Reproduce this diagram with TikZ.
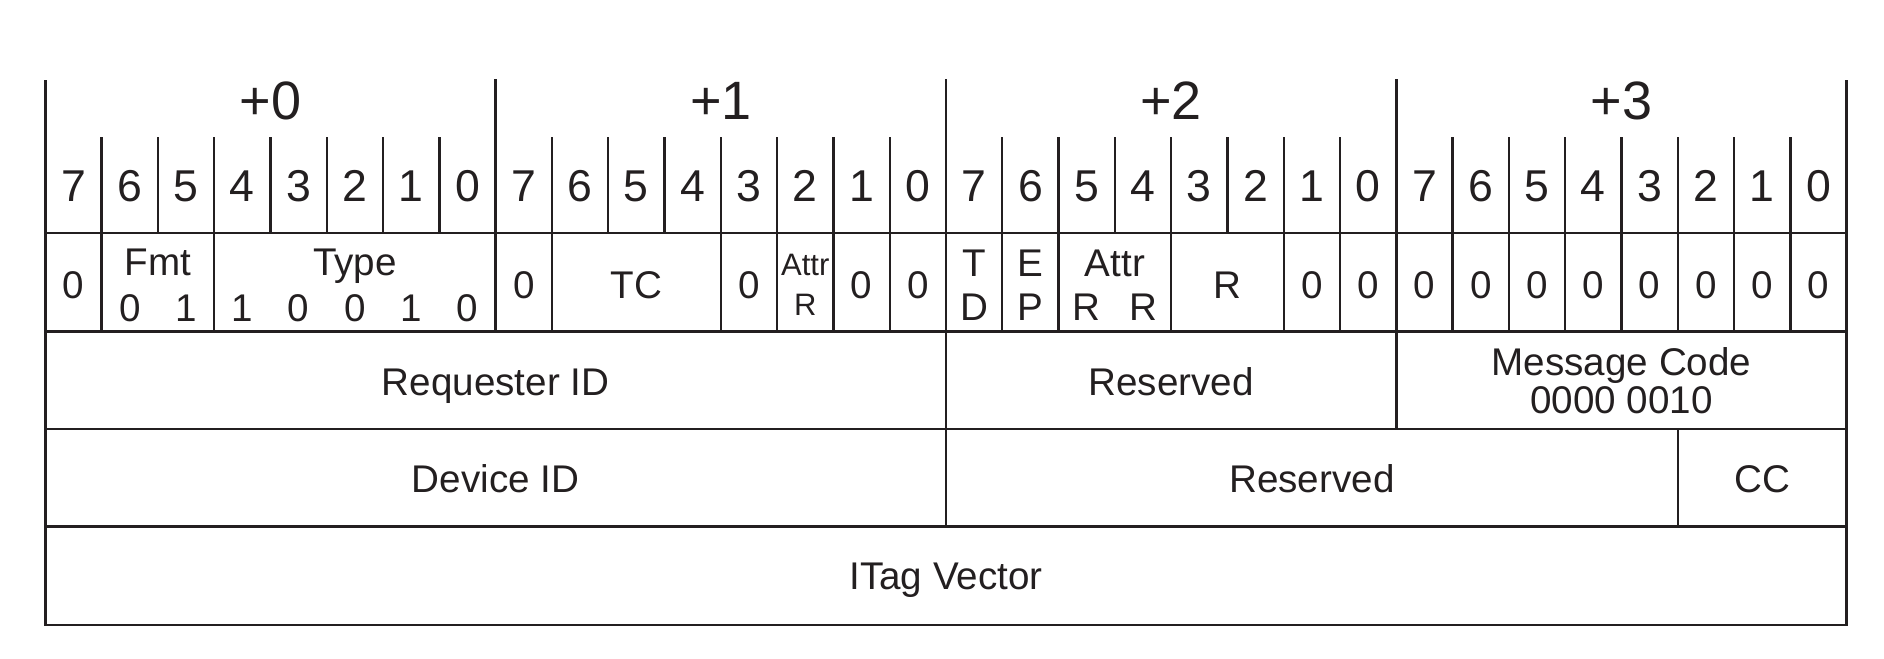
\documentclass[tikz,border=0pt]{standalone}
\usepackage{fontspec}
\setmainfont{Liberation Sans}
\usepackage{tikz}
\usetikzlibrary{positioning}
\usetikzlibrary{calc}
\definecolor{InkColor}{RGB}{35,31,32}
\tikzstyle{rule} = [line width=1.2pt, InkColor, line cap=rect]
\tikzstyle{frame} = [line width=1.4pt, InkColor]
\tikzstyle{lbl} = [inner sep=0pt, text=InkColor, anchor=base]
\tikzstyle{bytelbl} = [lbl, font=\fontsize{27}{30}\selectfont]
\tikzstyle{bitlbl} = [lbl, font=\fontsize{22.3}{26}\selectfont]
\tikzstyle{fldlbl} = [lbl, font=\fontsize{19.3}{22}\selectfont]
\tikzstyle{smalllbl} = [lbl, font=\fontsize{15.5}{18}\selectfont]

\begin{document}
\begin{tikzpicture}[x=28.145pt, y=-0.5pt]
\useasboundingbox (-0.8048,0) rectangle (32.663,658);
% grid lines
\foreach \i in {1,...,31}
  \draw[rule] (\i,138) -- (\i,233);
\foreach \b in {8,16,24}
  \draw[rule] (\b,80) -- (\b,233);
\foreach \i in {1,3,8,9,12,13,14,15,16,17,18,20,22,23,24,25,26,27,28,29,30,31}
  \draw[rule] (\i,233) -- (\i,331.5);
\foreach \i in {16,24}
  \draw[rule] (\i,331.5) -- (\i,429);
\foreach \i in {16,29}
  \draw[rule] (\i,429) -- (\i,526.5);
\foreach \y in {233,331.5,429,526.5}
  \draw[rule] (0,\y) -- (32,\y);
\draw[frame] (0,80) -- (0,625) -- (32,625) -- (32,80);

% byte offsets and bit numbers (y = baseline)
\foreach \b/\t in {0/+0,1/+1,2/+2,3/+3}
  \node[bytelbl] (byte\b) at (8*\b+4,119.5) {\t};
\foreach \i in {0,...,31}{
  \pgfmathtruncatemacro\bitno{7-mod(\i,8)}
  \node[bitlbl] (bit\i) at (\i+0.5,201.5) {\bitno};
}

% first header dword
\foreach \i in {0,8,12,14,15,22,23,24,25,26,27,28,29,30,31}
  \node[fldlbl] (zero\i) at (\i+0.5,298) {0};
\node[fldlbl] (fmt) at (2,275.5) {Fmt};
\node[fldlbl] (fmtb1) at (1.5,321) {0};
\node[fldlbl] (fmtb0) at (2.5,321) {1};
\node[fldlbl] (type) at (5.5,275.5) {Type};
\foreach \i/\v in {3/1,4/0,5/0,6/1,7/0}
  \node[fldlbl] (typeb\i) at (\i+0.5,321) {\v};
\node[fldlbl] (tc) at (10.5,298) {TC};
\node[smalllbl] (attrhi) at (13.5,275) {Attr};
\node[smalllbl] (attrhir) at (13.5,315) {R};
\node[fldlbl] (td) at (16.5,276.5) {T};
\node[fldlbl] (tdb) at (16.5,320.5) {D};
\node[fldlbl] (ep) at (17.5,276.5) {E};
\node[fldlbl] (epb) at (17.5,320.5) {P};
\node[fldlbl] (attr) at (19,276) {Attr};
\node[fldlbl] (attrr1) at (18.5,320.5) {R};
\node[fldlbl] (attrr0) at (19.5,320.5) {R};
\node[fldlbl] (rsv) at (21,298) {R};

% second and third dwords
\node[fldlbl] (reqid) at (8,395) {Requester ID};
\node[fldlbl] (reserved1) at (20,395) {Reserved};
\node[fldlbl] (msgcode) at (28,375) {Message Code};
\node[fldlbl] (msgval) at (28,413.5) {0000 0010};
\node[fldlbl] (devid) at (8,492.5) {Device ID};
\node[fldlbl] (reserved2) at (22.5,492.5) {Reserved};
\node[fldlbl] (cc) at (30.5,492.5) {CC};
\node[fldlbl] (itag) at (16,589) {ITag Vector};
\end{tikzpicture}
\end{document}
